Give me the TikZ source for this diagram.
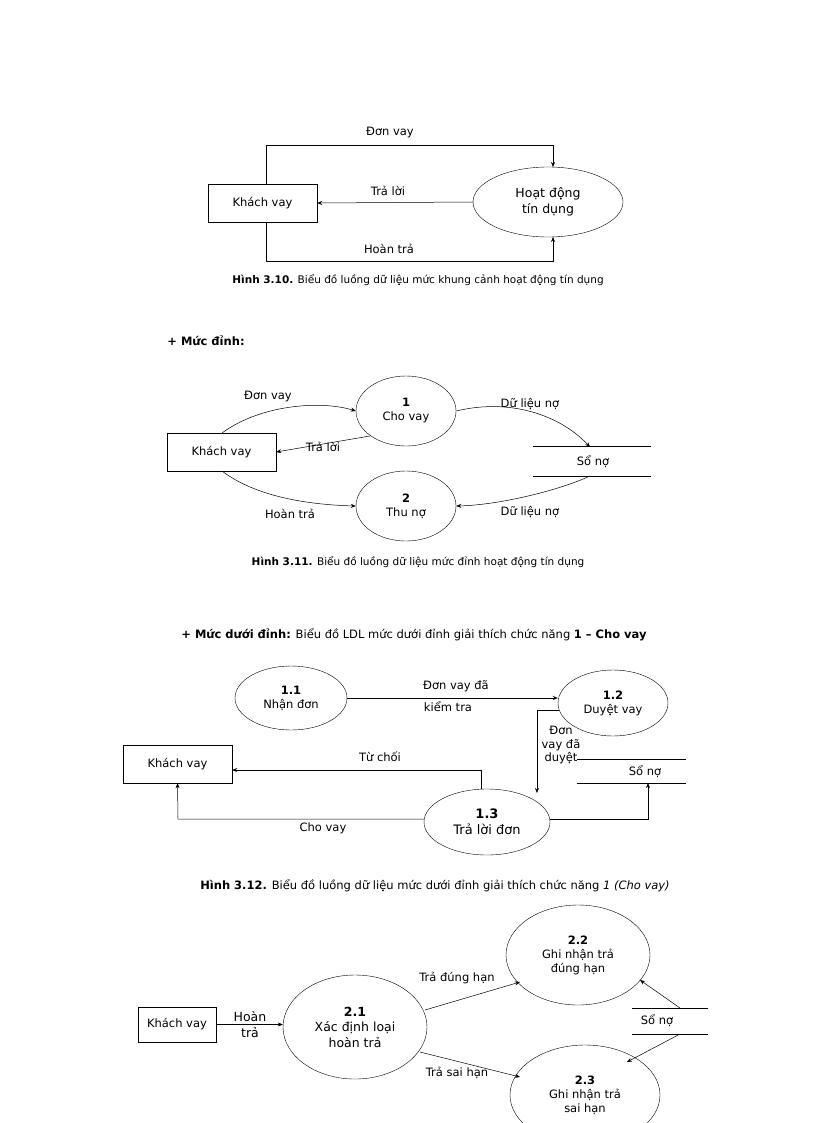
\documentclass[tikz,border=0pt]{standalone}
\usepackage{fontspec}
\setmainfont{DejaVu Sans}
\usetikzlibrary{shapes.geometric,arrows.meta}
\begin{document}
\begin{tikzpicture}[x=1pt,y=-1pt,
  every node/.style={font=\fontsize{11.5}{14}\selectfont, inner sep=1pt},
  ent/.style={draw, minimum width=109pt, minimum height=38pt, inner sep=0pt},
  proc/.style={draw, ellipse, inner sep=0pt, align=center},
  flow/.style={-{Stealth[length=5pt,width=4pt]}, line width=0.5pt},
  capt/.style={font=\fontsize{10.5}{13}\selectfont},
  lbl/.style={font=\fontsize{11.5}{14}\selectfont, align=center}]
\useasboundingbox (0,0) rectangle (816,1123);
\clip (0,0) rectangle (816,1123);
% ---------- Fig 3.10
\node[ent] (kv1) at (262.5,203) {Khách vay};
\node[proc, minimum width=150pt, minimum height=70pt, font=\fontsize{12.5}{16}\selectfont] (hd) at (548,202) {Hoạt động\\tín dụng};
\coordinate (t1) at (266,145); \coordinate (t2) at (553,145);
\coordinate (b1) at (266,261); \coordinate (b2) at (553,261);
\draw[flow] (266,184) -- (t1) -- (t2) -- (553,167);
\draw[flow] (266,222) -- (b1) -- (b2) -- (553,237);
\draw[flow] (hd.west) -- (kv1.east);
\node[lbl] at (390,133) {Đơn vay};
\node[lbl] at (388,191) {Trả lời};
\node[lbl] at (389,249) {Hoàn trả};
\node[capt] at (418,280) {\textbf{Hình 3.10.} Biểu đồ luồng dữ liệu mức khung cảnh hoạt động tín dụng};
% ---------- Fig 3.11
\node[font=\fontsize{11.5}{14}\selectfont\bfseries] at (206,341) {+ Mức đỉnh:};
\node[ent] (kv2) at (221.5,452) {Khách vay};
\node[proc, minimum width=100pt, minimum height=70pt] (p1) at (406,411) {\textbf{1}\\Cho vay};
\node[proc, minimum width=100pt, minimum height=70pt] (p2) at (406,506) {\textbf{2}\\Thu nợ};
\draw (533,446) -- (651,446); \draw (533,476) -- (651,476);
\coordinate (s1) at (590,447); \coordinate (s2) at (590,476);
\node (so1) at (593,462) {Sổ nợ};
\draw[flow] (222,433) .. controls (260,405) and (320,400) .. (p1.west);
\draw[flow] (p1.south west) -- (kv2.east);
\draw[flow] (222,471) .. controls (260,500) and (320,505) .. (p2.west);
\draw[flow] (p1.east) .. controls (510,398) and (560,415) .. (s1);
\draw[flow] (s2) .. controls (560,490) and (500,505) .. (p2.east);
\node[lbl] at (268,397) {Đơn vay};
\node[lbl] at (323,447) {Trả lời};
\node[lbl] at (290,514) {Hoàn trả};
\node[lbl] at (530,404) {Dữ liệu nợ};
\node[lbl] at (530,512) {Dữ liệu nợ};
\node[capt] at (418,562) {\textbf{Hình 3.11.} Biểu đồ luồng dữ liệu mức đỉnh hoạt động tín dụng};
% ---------- Fig 3.12
\node[font=\fontsize{11.5}{14}\selectfont] at (414,635) {\textbf{+ Mức dưới đỉnh:} Biểu đồ LDL mức dưới đỉnh giải thích chức năng \textbf{1 – Cho vay}};
\node[proc, minimum width=112pt, minimum height=64pt] (p11) at (291,698) {\textbf{1.1}\\Nhận đơn};
\node[proc, minimum width=110pt, minimum height=66pt] (p12) at (613,703) {\textbf{1.2}\\Duyệt vay};
\node[proc, minimum width=126pt, minimum height=66pt, font=\fontsize{13}{16}\selectfont] (p13) at (487,822) {\textbf{1.3}\\Trả lời đơn};
\node[ent] (kv3) at (177.5,764) {Khách vay};
\draw (577,759) -- (686,759); \draw (577,783) -- (686,783);
\node (so3) at (645,772) {Sổ nợ};
\draw[flow] (p11.east) -- (p12.west |- p11.east);
\node[lbl] at (456,686) {Đơn vay đã};
\node[lbl] at (448,707) {kiểm tra};
\coordinate (d1) at (537,710);
\draw[flow] (559,710) -- (d1) -- (537,793);
\node[lbl, font=\fontsize{11.5}{13.5}\selectfont] at (561,745) {Đơn\\vay đã\\duyệt};
\coordinate (r1) at (481,770);
\draw[flow] (481,789) -- (r1) -- (kv3.east |- r1);
\node[lbl] at (380,757) {Từ chối};
\coordinate (c1) at (178,819);
\draw[flow] (p13.west |- c1) -- (c1) -- (kv3.south);
\node[lbl] at (323,828) {Cho vay};
\coordinate (c2) at (648,819);
\draw[flow] (p13.east |- c2) -- (c2) -- (648,783);
\node[font=\fontsize{11.5}{14}\selectfont] at (435,886) {\textbf{Hình 3.12.} Biểu đồ luồng dữ liệu mức dưới đỉnh giải thích chức năng \textit{1 (Cho vay)}};
% ---------- Fig 3.13
\node[ent, minimum width=78pt, minimum height=35pt] (kv4) at (177,1024.5) {Khách vay};
\node[proc, minimum width=144pt, minimum height=104pt, font=\fontsize{12.5}{15.5}\selectfont] (p21) at (355,1027) {\textbf{2.1}\\Xác định loại\\hoàn trả};
\node[proc, minimum width=144pt, minimum height=100pt] (p22) at (578,955) {\textbf{2.2}\\Ghi nhận trả\\đúng hạn};
\node[proc, minimum width=150pt, minimum height=100pt] (p23) at (585,1095) {\textbf{2.3}\\Ghi nhận trả\\sai hạn};
\draw (632,1008) -- (708,1008); \draw (632,1034) -- (708,1034);
\node (so4) at (657,1021) {Sổ nợ};
\draw[flow] (kv4.east) -- (kv4.east -| p21.west);
\node[lbl, font=\fontsize{12.5}{16}\selectfont] at (250,1025) {Hoàn\\trả};
\draw[flow] (425,1010) -- (520,982);
\draw[flow] (420,1052) -- (520,1077);
\node[lbl] at (457,978) {Trả đúng hạn};
\node[lbl] at (457,1073) {Trả sai hạn};
\draw[flow] (680,1008) -- (640,980);
\draw[flow] (680,1034) -- (627,1062);
\end{tikzpicture}
\end{document}
